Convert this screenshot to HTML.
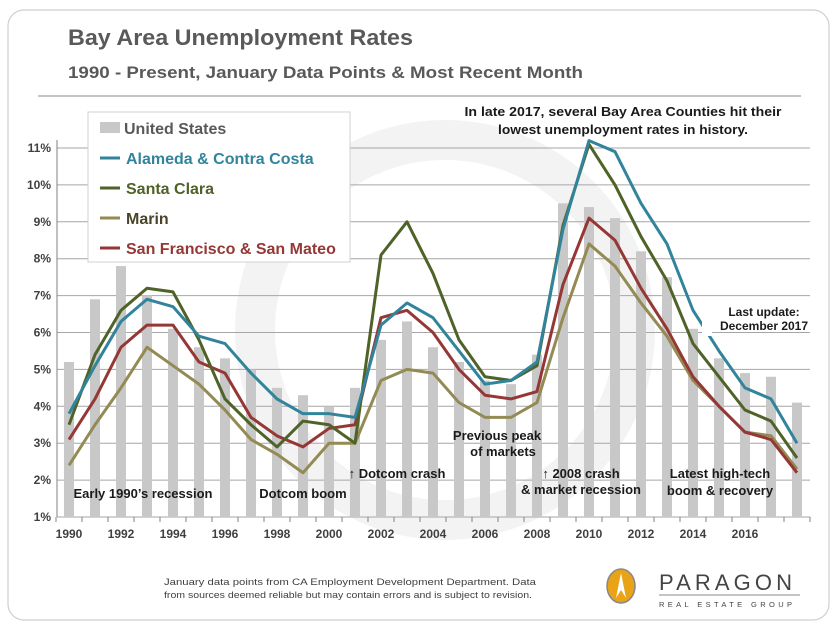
<!DOCTYPE html>
<html><head><meta charset="utf-8"><style>
body{margin:0;background:#fff;}
svg{display:block;font-family:"Liberation Sans",Arial,sans-serif;}
</style></head><body>
<svg id="chart" width="835" height="629" viewBox="0 0 835 629">
<rect x="8" y="10" width="821" height="610" rx="16" fill="#fff" stroke="#cfcfcf" stroke-width="1.2"/>
<circle cx="445" cy="330" r="190" fill="none" stroke="#f3f3f3" stroke-width="40"/>
<text x="68" y="45" font-size="22" font-weight="bold" fill="#595959" textLength="345" lengthAdjust="spacingAndGlyphs">Bay Area Unemployment Rates</text>
<text x="68" y="78" font-size="17" font-weight="bold" fill="#595959" textLength="515" lengthAdjust="spacingAndGlyphs">1990 - Present, January Data Points &amp; Most Recent Month</text>
<line x1="38" y1="96" x2="801" y2="96" stroke="#888" stroke-width="1"/>
<g id="grid"></g><g id="bars"></g><g id="lines"></g><g id="axes"></g>
<g>
<rect x="88" y="112" width="262" height="150" fill="#fff" stroke="#d0d0d0"/>
<rect x="100" y="122" width="20" height="11" fill="#c8c8c8"/>
<text x="124" y="134" font-size="16" font-weight="bold" fill="#595959">United States</text>
<line x1="100" y1="158" x2="120" y2="158" stroke="#31849b" stroke-width="3"/>
<text x="126" y="164" font-size="16" font-weight="bold" fill="#31849b">Alameda &amp; Contra Costa</text>
<line x1="100" y1="188" x2="120" y2="188" stroke="#4f6228" stroke-width="3"/>
<text x="126" y="194" font-size="16" font-weight="bold" fill="#4f6228">Santa Clara</text>
<line x1="100" y1="218" x2="120" y2="218" stroke="#948a54" stroke-width="3"/>
<text x="126" y="224" font-size="16" font-weight="bold" fill="#4a452a">Marin</text>
<line x1="100" y1="248" x2="120" y2="248" stroke="#953735" stroke-width="3"/>
<text x="126" y="254" font-size="16" font-weight="bold" fill="#953735">San Francisco &amp; San Mateo</text>
</g>
<g font-size="13" font-weight="bold" fill="#1a1a1a">
<text x="623" y="116" text-anchor="middle" textLength="317" lengthAdjust="spacingAndGlyphs">In late 2017, several Bay Area Counties hit their</text>
<text x="623" y="134" text-anchor="middle" textLength="250" lengthAdjust="spacingAndGlyphs">lowest unemployment rates in history.</text>
<text x="764" y="316" text-anchor="middle" font-size="12">Last update:</text>
<text x="764" y="330" text-anchor="middle" font-size="12">December 2017</text>
<text x="143" y="498" text-anchor="middle">Early 1990’s recession</text>
<text x="303" y="498" text-anchor="middle">Dotcom boom</text>
<text x="397" y="478" text-anchor="middle">↑ Dotcom crash</text>
<text x="497" y="440" text-anchor="middle">Previous peak</text>
<text x="503" y="456" text-anchor="middle">of  markets</text>
<text x="581" y="478" text-anchor="middle">↑ 2008 crash</text>
<text x="581" y="494" text-anchor="middle">&amp; market recession</text>
<text x="720" y="478" text-anchor="middle">Latest high-tech</text>
<text x="720" y="495" text-anchor="middle">boom &amp; recovery</text>
</g>
<text x="164" y="585" font-size="9.5" fill="#404040" textLength="372" lengthAdjust="spacingAndGlyphs">January data points from CA Employment Development Department. Data</text>
<text x="164" y="598" font-size="9.5" fill="#404040" textLength="368" lengthAdjust="spacingAndGlyphs">from sources deemed reliable but may contain errors and is subject to revision.</text>
<g>
<ellipse cx="621" cy="586" rx="14" ry="17" fill="#e8a317" stroke="#888" stroke-width="1.5"/>
<path d="M621 573 L616 598 L621 590 L626 598 Z" fill="#fff"/>
<text x="659" y="590" font-size="22" fill="#444" textLength="133" lengthAdjust="spacing">PARAGON</text>
<line x1="659" y1="595" x2="800" y2="595" stroke="#888"/>
<text x="659" y="607" font-size="7.5" fill="#444" textLength="133" lengthAdjust="spacing">REAL ESTATE GROUP</text>
</g>
</svg>
<script>
const categories=["1990","1991","1992","1993","1994","1995","1996","1997","1998","1999","2000","2001","2002","2003","2004","2005","2006","2007","2008","2009","2010","2011","2012","2013","2014","2015","2016","2017","Dec 2017"];
const usValues=[5.2,6.9,7.8,7.0,6.1,5.6,5.3,5.0,4.5,4.3,4.0,4.5,5.8,6.3,5.6,5.2,4.7,4.6,5.4,9.5,9.4,9.1,8.2,7.5,6.1,5.3,4.9,4.8,4.1];
const alamedaValues=[3.8,5.1,6.3,6.9,6.7,5.9,5.7,4.9,4.2,3.8,3.8,3.7,6.2,6.8,6.4,5.5,4.6,4.7,5.2,8.8,11.2,10.9,9.5,8.4,6.6,5.5,4.5,4.2,3.0];
const santaClaraValues=[3.5,5.4,6.6,7.2,7.1,5.8,4.2,3.5,2.9,3.6,3.5,3.0,8.1,9.0,7.6,5.8,4.8,4.7,5.1,8.9,11.1,10.0,8.6,7.4,5.7,4.8,3.9,3.6,2.6];
const marinValues=[2.4,3.5,4.5,5.6,5.1,4.6,3.9,3.1,2.7,2.2,3.0,3.0,4.7,5.0,4.9,4.1,3.7,3.7,4.1,6.4,8.4,7.8,6.8,5.9,4.7,4.0,3.3,3.2,2.3];
const sfValues=[3.1,4.2,5.6,6.2,6.2,5.2,4.9,3.7,3.2,2.9,3.4,3.5,6.4,6.6,6.0,5.0,4.3,4.2,4.4,7.3,9.1,8.5,7.2,6.1,4.8,4.0,3.3,3.1,2.2];
const yTicks=[1,2,3,4,5,6,7,8,9,10,11];
const xLabels=["1990","1992","1994","1996","1998","2000","2002","2004","2006","2008","2010","2012","2014","2016"];

const NS="http://www.w3.org/2000/svg";
const X0=69,STEP=26,Y0=517,YPER=36.9,LEFT=57,RIGHT=810;
function xScale(i){return X0+STEP*i;}
function yScale(v){return Y0-(v-1)*YPER;}
function mk(tag,attrs,parent){const e=document.createElementNS(NS,tag);for(const k in attrs)e.setAttribute(k,attrs[k]);parent.appendChild(e);return e;}
const grid=document.getElementById('grid'),bars=document.getElementById('bars'),lines=document.getElementById('lines'),axes=document.getElementById('axes');
yTicks.forEach(t=>{
  const y=yScale(t);
  const g=mk('line',{x1:LEFT,x2:RIGHT,y1:y,y2:y,stroke:'#a6a6a6','stroke-width':1},grid);
  
  
  const tx=mk('text',{x:LEFT-6,y:y+4,'text-anchor':'end','font-size':12,'font-weight':'bold',fill:'#404040'},axes);
  tx.textContent=t+'%';
  
  
});
const ax=mk('line',{x1:LEFT,x2:LEFT,y1:yScale(11)-8,y2:Y0,stroke:'#808080'},axes);


usValues.forEach((v,i)=>{
  const r=mk('rect',{x:xScale(i)-5,y:yScale(v),width:10,height:Y0-yScale(v),fill:'#c8c8c8'},bars);
  
  
});
for(let i=0;i<=categories.length;i++){
  const x=xScale(i)-STEP/2;
  const tk=mk('line',{x1:x,x2:x,y1:Y0,y2:Y0+5,stroke:'#808080'},axes);
  
  
}
xLabels.forEach(l=>{
  const i=categories.indexOf(l);
  const t=mk('text',{x:xScale(i),y:Y0+21,'text-anchor':'middle','font-size':12,'font-weight':'bold',fill:'#404040'},axes);
  t.textContent=l;
  
  
});
function series(vals,color,name){
  const d=vals.map((v,i)=>(i?'L':'M')+xScale(i)+' '+yScale(v)).join(' ');
  const p=mk('path',{d:d,fill:'none',stroke:color,'stroke-width':3,'stroke-linejoin':'round'},lines);
  
  
}
series(marinValues,'#948a54','line-marin');
series(sfValues,'#953735','line-sf-san-mateo');
series(santaClaraValues,'#4f6228','line-santa-clara');
series(alamedaValues,'#31849b','line-alameda-contra-costa');
const gap=mk('rect',{x:702,y:318,width:10,height:18,fill:'#fff'},lines);


</script>
</body></html>
